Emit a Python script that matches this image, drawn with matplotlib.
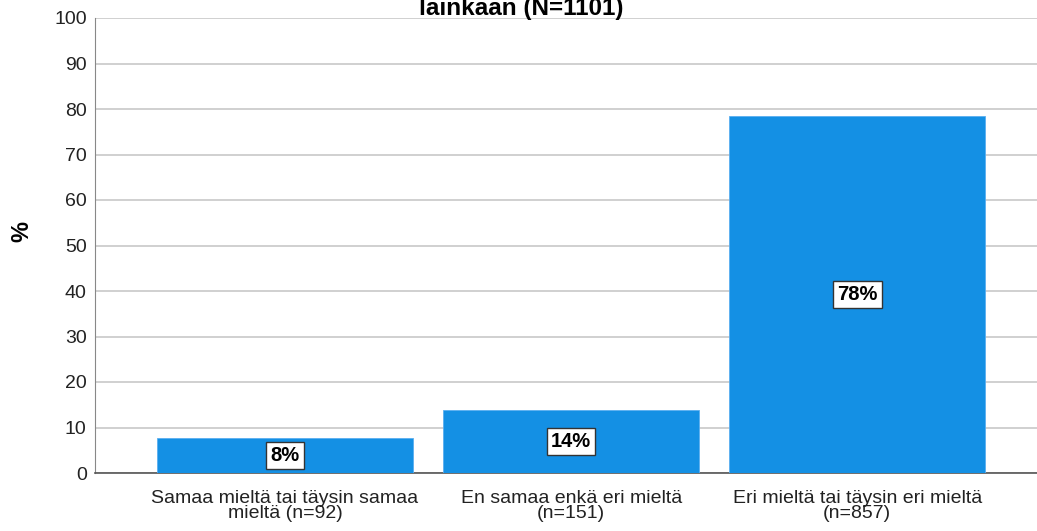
import numpy as np
import matplotlib.pyplot as plt

plt.rcParams['font.family'] = ['Liberation Sans', 'DejaVu Sans']

categories = ["Samaa mieltä tai täysin samaa\nmieltä (n=92)",
              "En samaa enkä eri mieltä\n(n=151)",
              "Eri mieltä tai täysin eri mieltä\n(n=857)"]
values = [7.8, 13.8, 78.4]
labels = ["8%", "14%", "78%"]
title = "lainkaan (N=1101)"

W, H = 1037, 531
fig = plt.figure(figsize=(W / 100, H / 100), dpi=100)
ax = fig.add_axes([95 / W, (H - 473) / H, (W - 95) / W, (473 - 18) / H])

x = np.arange(len(categories))
ax.bar(x, values, width=0.895, color="#1490e4", edgecolor="#5aaef0", linewidth=0.6, zorder=3)

for xi, v, lab in zip(x, values, labels):
    ax.text(xi, v / 2, lab, ha="center", va="center", fontsize=14.5, fontweight="bold",
            zorder=4, bbox=dict(boxstyle="square,pad=0.2", facecolor="white",
                                edgecolor="#333333", linewidth=1))

ax.set_xlim(-0.664, 2.628)
ax.set_ylim(0, 100)
ax.set_yticks(np.arange(0, 101, 10))
ax.set_xticks(x)
ax.set_xticklabels(categories, fontsize=14, color="#222222", linespacing=0.9)
ax.tick_params(axis="both", length=0, labelsize=14, colors="#222222")
ax.tick_params(axis="x", pad=12)
ax.tick_params(axis="y", pad=6)
ax.grid(axis="y", color="#c8c8c8", linewidth=1.2, zorder=0)
for s in ["top", "right"]:
    ax.spines[s].set_visible(False)
ax.spines["left"].set_color("#888888")
ax.spines["bottom"].set_color("#555555")
ax.spines["bottom"].set_linewidth(1.2)

ax.set_ylabel("%", fontsize=17, fontweight="bold")
ax.yaxis.set_label_coords(-(95 - 33) / (W - 95), (473 - 232) / (473 - 18))

fig.text(521 / W, 1 - 15 / H, title, ha="center", va="baseline", fontsize=17.5, fontweight="bold")

fig.savefig("out.png", dpi=100)
